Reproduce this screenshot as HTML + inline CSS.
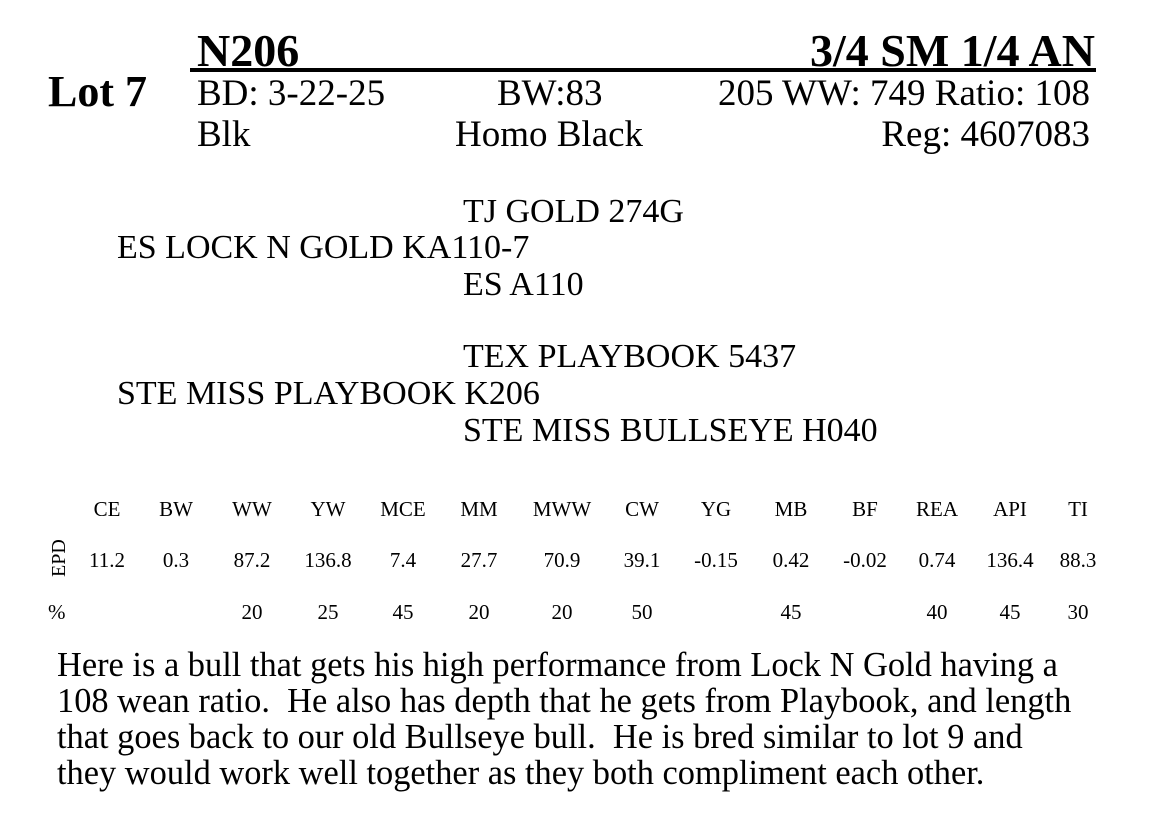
<!DOCTYPE html>
<html><head><meta charset="utf-8"><style>
body{margin:0;width:1170px;height:840px;background:#fff;position:relative;overflow:hidden;font-family:"Liberation Serif",serif;color:#000}
.a{position:absolute;white-space:nowrap;line-height:1}
.b{font-weight:bold}
.c{transform:translateX(-50%)}
.r{text-align:right}
.t{font-size:21px}
</style></head><body>
<div class="a b" style="left:197px;top:28px;font-size:46px">N206</div>
<div class="a b r" style="right:75px;top:28px;font-size:46px">3/4 SM 1/4 AN</div>
<div style="position:absolute;left:190px;top:68px;width:906px;height:4px;background:#000"></div>
<div class="a b" style="left:48px;top:70px;font-size:44px">Lot 7</div>
<div class="a" style="left:197px;top:75px;font-size:37px">BD: 3-22-25</div>
<div class="a" style="left:497px;top:75px;font-size:37px">BW:83</div>
<div class="a r" style="right:80px;top:75px;font-size:37px">205 WW: 749 Ratio: 108</div>
<div class="a" style="left:197px;top:116px;font-size:37px">Blk</div>
<div class="a" style="left:455px;top:116px;font-size:37px">Homo Black</div>
<div class="a r" style="right:80px;top:116px;font-size:37px">Reg: 4607083</div>

<div class="a" style="left:463px;top:195px;font-size:34px">TJ GOLD 274G</div>
<div class="a" style="left:117px;top:231px;font-size:34px">ES LOCK N GOLD KA110-7</div>
<div class="a" style="left:463px;top:268px;font-size:34px">ES A110</div>
<div class="a" style="left:463px;top:340px;font-size:34px">TEX PLAYBOOK 5437</div>
<div class="a" style="left:117px;top:377px;font-size:34px">STE MISS PLAYBOOK K206</div>
<div class="a" style="left:463px;top:414px;font-size:34px">STE MISS BULLSEYE H040</div>

<div class="a t c" style="left:107px;top:499px">CE</div>
<div class="a t c" style="left:176px;top:499px">BW</div>
<div class="a t c" style="left:252px;top:499px">WW</div>
<div class="a t c" style="left:328px;top:499px">YW</div>
<div class="a t c" style="left:403px;top:499px">MCE</div>
<div class="a t c" style="left:479px;top:499px">MM</div>
<div class="a t c" style="left:562px;top:499px">MWW</div>
<div class="a t c" style="left:642px;top:499px">CW</div>
<div class="a t c" style="left:716px;top:499px">YG</div>
<div class="a t c" style="left:791px;top:499px">MB</div>
<div class="a t c" style="left:865px;top:499px">BF</div>
<div class="a t c" style="left:937px;top:499px">REA</div>
<div class="a t c" style="left:1010px;top:499px">API</div>
<div class="a t c" style="left:1078px;top:499px">TI</div>

<div class="a t" style="left:49px;transform:rotate(-90deg);transform-origin:0 0;top:577px;font-size:20px">EPD</div>
<div class="a t c" style="left:107px;top:550px">11.2</div>
<div class="a t c" style="left:176px;top:550px">0.3</div>
<div class="a t c" style="left:252px;top:550px">87.2</div>
<div class="a t c" style="left:328px;top:550px">136.8</div>
<div class="a t c" style="left:403px;top:550px">7.4</div>
<div class="a t c" style="left:479px;top:550px">27.7</div>
<div class="a t c" style="left:562px;top:550px">70.9</div>
<div class="a t c" style="left:642px;top:550px">39.1</div>
<div class="a t c" style="left:716px;top:550px">-0.15</div>
<div class="a t c" style="left:791px;top:550px">0.42</div>
<div class="a t c" style="left:865px;top:550px">-0.02</div>
<div class="a t c" style="left:937px;top:550px">0.74</div>
<div class="a t c" style="left:1010px;top:550px">136.4</div>
<div class="a t c" style="left:1078px;top:550px">88.3</div>

<div class="a t" style="left:48px;top:602px">%</div>
<div class="a t c" style="left:252px;top:602px">20</div>
<div class="a t c" style="left:328px;top:602px">25</div>
<div class="a t c" style="left:403px;top:602px">45</div>
<div class="a t c" style="left:479px;top:602px">20</div>
<div class="a t c" style="left:562px;top:602px">20</div>
<div class="a t c" style="left:642px;top:602px">50</div>
<div class="a t c" style="left:791px;top:602px">45</div>
<div class="a t c" style="left:937px;top:602px">40</div>
<div class="a t c" style="left:1010px;top:602px">45</div>
<div class="a t c" style="left:1078px;top:602px">30</div>

<div class="a" style="left:57px;top:647px;font-size:34.4px;line-height:36px;white-space:pre">Here is a bull that gets his high performance from Lock N Gold having a
108 wean ratio.  He also has depth that he gets from Playbook, and length
that goes back to our old Bullseye bull.  He is bred similar to lot 9 and
they would work well together as they both compliment each other.</div>
</body></html>
